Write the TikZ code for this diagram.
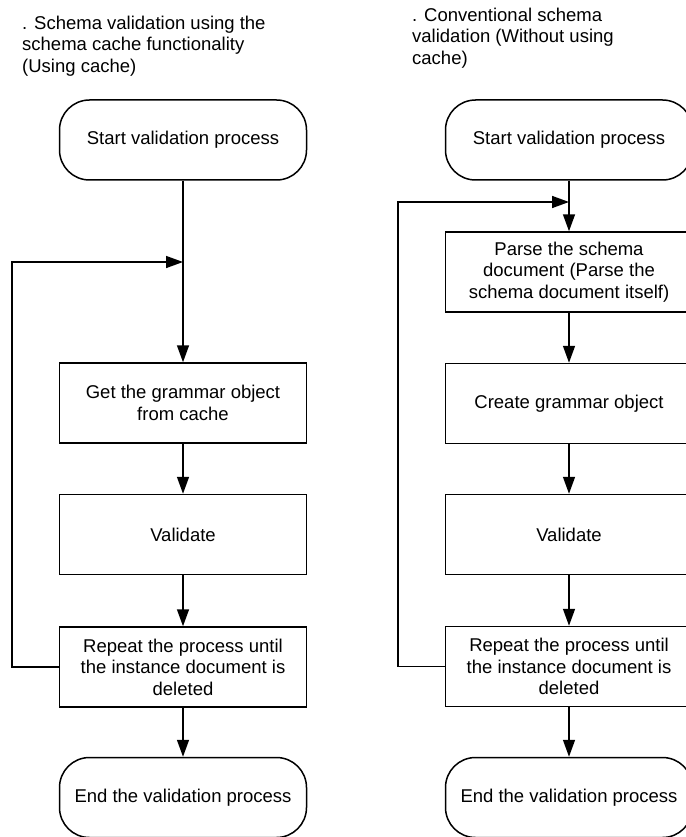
\documentclass[tikz,border=0pt]{standalone}
\usepackage{fontspec}
\setmainfont{Liberation Sans}
\usetikzlibrary{arrows.meta}

\begin{document}
\begin{tikzpicture}[x=1pt,y=-1pt,
    every node/.style={font=\fontsize{18.5}{21.5}\selectfont},
    terminal/.style={draw,line width=1.5pt,rounded corners=30pt,minimum width=247pt,minimum height=80pt,align=center,inner sep=0pt},
    stepbox/.style={draw,line width=1.5pt,minimum width=247pt,minimum height=80pt,align=center,inner sep=0pt},
    flow/.style={line width=1.5pt,-{Triangle[length=17pt,width=12pt]}},
    title/.style={anchor=north west,align=left,inner sep=0pt}]

      \useasboundingbox (0,0) rectangle (685,837);

          % Left flow, using cache
          \node[title] (ltitle) at (22,15.5) {. Schema validation using the\\schema cache functionality\\(Using cache)};
          \node[terminal] (lstart) at (183,140) {Start validation process};
          \node[stepbox] (lget) at (183,403) {Get the grammar object\\from cache};
          \node[stepbox] (lval) at (183,534.5) {Validate};
          \node[stepbox] (lrep) at (183,667) {Repeat the process until\\the instance document is\\deleted};
          \node[terminal] (lend) at (183,797.5) {End the validation process};

          \draw[flow] (lstart) -- (lget);
          \draw[flow] (lget) -- (lval);
          \draw[flow] (lval) -- (lrep);
          \draw[flow] (lrep) -- (lend);

          % loop back on the left
          \coordinate (ljoin) at (183,262);
          \coordinate (lturn) at (12,262);
          \draw[flow] (lrep.west) -| (lturn) -- (ljoin);

          % Right flow, without cache
          \node[title] (rtitle) at (412,7.5) {. Conventional schema\\validation (Without using\\cache)};
          \node[terminal] (rstart) at (569,140) {Start validation process};
          \node[stepbox] (rparse) at (569,272) {Parse the schema\\document (Parse the\\schema document itself)};
          \node[stepbox] (rcreate) at (569,403.5) {Create grammar object};
          \node[stepbox] (rval) at (569,534.5) {Validate};
          \node[stepbox] (rrep) at (569,666.5) {Repeat the process until\\the instance document is\\deleted};
          \node[terminal] (rend) at (569,797.5) {End the validation process};

          \draw[flow] (rstart) -- (rparse);
          \draw[flow] (rparse) -- (rcreate);
          \draw[flow] (rcreate) -- (rval);
          \draw[flow] (rval) -- (rrep);
          \draw[flow] (rrep) -- (rend);

          % loop back on the right
          \coordinate (rjoin) at (569,202);
          \coordinate (rturn) at (398,202);
          \draw[flow] (rrep.west) -| (rturn) -- (rjoin);

      \end{tikzpicture}
\end{document}
